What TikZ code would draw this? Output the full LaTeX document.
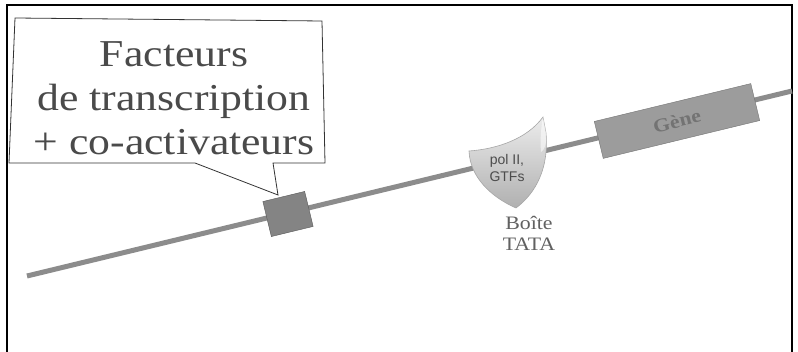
\documentclass[tikz,border=0pt]{standalone}
\usepackage{fontspec}
\setmainfont{Liberation Serif}
\newfontfamily\wideserif[FakeStretch=1.15]{Liberation Serif}
\newfontfamily\sansf{Liberation Sans}
\definecolor{dnagray}{HTML}{8C8C8C}
\definecolor{boxgray}{HTML}{848484}
\definecolor{genegray}{HTML}{9C9C9C}
\definecolor{txtgray}{HTML}{4A4A4A}
\tikzset{
  dna/.style={draw=dnagray, line width=5pt},
  tfbox/.style={draw=black!65, fill=boxgray, minimum width=43pt, minimum height=36pt, inner sep=0pt, rotate=13.6},
  genebox/.style={draw=black!55, fill=genegray, minimum width=161pt, minimum height=38pt, inner sep=0pt, rotate=13.6,
    text=black!55, font=\wideserif\bfseries\fontsize{19}{20}\selectfont},
  calltext/.style={align=center, inner sep=0pt, text=txtgray, font=\wideserif\fontsize{38}{44}\selectfont},
  labtext/.style={align=center, inner sep=0pt, text=black!62, font=\wideserif\fontsize{19}{21}\selectfont},
  poltext/.style={align=center, inner sep=0pt, text=black!70, font=\sansf\fontsize{14}{17}\selectfont},
  frame/.style={draw=black, line width=2.5pt},
  callout/.style={draw=black!80, line width=0.8pt, fill=white}
}
\begin{document}
\begin{tikzpicture}[x=1pt, y=-1pt]
\useasboundingbox (0,0) rectangle (798,352);
\fill[white] (0,0) rectangle (798,352);
% frame
\draw[frame] (7,352) -- (7,5) -- (792,5) -- (792,352);
% DNA ends
\coordinate (dnaL) at (27,276);
\coordinate (dnaR) at (792,91);
\draw[dna] (dnaL) -- (dnaR);
% transcription factor binding box
\node[tfbox] (tf) at (288,214) {};
% gene box with its label
\node[genebox] (gene) at (677,121) {Gène};
% shield (pol II, GTFs)
\shade[top color=gray!15, bottom color=gray!62, draw=gray!70, line width=0.6pt]
  (469,151) .. controls (497,149) and (527,139) .. (543,117)
  -- (546,133) .. controls (549,168) and (536,193) .. (516,208)
  .. controls (491,197) and (470,177) .. (469,151) -- cycle;
\fill[white, opacity=0.55] (543,117) -- (546,133) .. controls (547,145) and (544,150) .. (541,152) .. controls (540,140) and (541,128) .. (543,117) -- cycle;
\node[poltext] (pol) at (507,168) {pol II,\\GTFs};
\node[labtext] (tata) at (529,233) {Boîte\\TATA};
% callout
\coordinate (tip) at (278,195);
\draw[callout] (15,18) -- (322,21) -- (325,163) -- (273,163) -- (tip) -- (195,163) -- (9,163) -- cycle;
\node[calltext] (facteurs) at (174,98.5) {Facteurs\\de transcription\\+ co-activateurs};
\end{tikzpicture}
\end{document}
